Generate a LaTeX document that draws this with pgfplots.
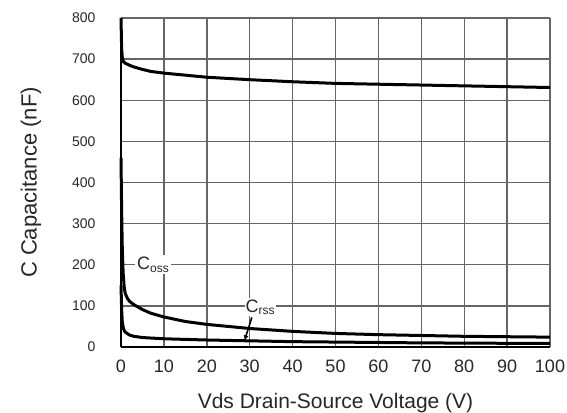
\documentclass[border=0pt]{standalone}
\usepackage{pgfplots}
\pgfplotsset{compat=1.18}
\usepackage{fontspec}
\setmainfont{Liberation Sans}
\usetikzlibrary{arrows.meta}

\pgfplotstableread{
x y
0 800
0.15 725
0.3 705
0.55 694
1 690
2 685
3 681
5 675
7 670
10 666
15 661
20 656
30 650
40 645
50 641
60 639
70 637
80 635
90 633
100 631
}\ciss

\pgfplotstableread{
x y
0 460
0.15 330
0.3 240
0.5 180
0.75 145
1 130
1.5 118
2 111
3 103
5 91
7 82
10 73
15 62
20 55
30 45
40 38
50 33
60 30
70 28
80 26
90 25
100 24
}\coss

\pgfplotstableread{
x y
0 150
0.15 90
0.3 62
0.5 48
0.75 40
1 36
2 29
3 26
5 23
10 20
20 17
30 15
40 13
50 12
60 11
70 10
80 9.5
90 9
100 8.5
}\crss

\begin{document}
\begin{tikzpicture}
\useasboundingbox (-121pt,-65pt) rectangle (446pt,347pt);
\begin{axis}[
    at={(0,0)}, anchor=south west,
    scale only axis,
    width=429pt, height=329pt,
    xmin=0, xmax=100,
    ymin=0, ymax=800,
    xtick={0,10,...,100},
    ytick={0,100,...,800},
    axis x line*=bottom,
    axis y line*=left,
    axis line style={black, line width=1.6pt, -},
    major tick length=0pt,
    grid=major,
    grid style={gray!80!black, line width=1.4pt},
    /pgf/number format/assume math mode=true,
    xticklabel style={font=\fontsize{18}{18}\selectfont, yshift=-9pt, text=black!85},
    yticklabel style={font=\fontsize{14}{14}\selectfont, xshift=-22pt, text=black!85},
    xlabel={Vds Drain-Source Voltage (V)},
    ylabel={C Capacitance (nF)},
    xlabel style={font=\fontsize{21}{21}\selectfont, yshift=-14pt, text=black!85},
    ylabel style={font=\fontsize{22}{22}\selectfont, yshift=24pt, text=black!85},
    clip=false,
]
\addplot[black, line width=3pt, line join=round] table {\ciss};
\addplot[black, line width=3pt, line join=round] table {\coss};
\addplot[black, line width=3pt, line join=round] table {\crss};
\node[fill=white, inner sep=2pt, font=\fontsize{18}{18}\selectfont, text=black!85]
    at (axis cs:7.5,200) {C\textsubscript{\fontsize{12}{12}\selectfont oss}};
\node[fill=white, inner sep=1pt, font=\fontsize{18}{18}\selectfont, text=black!85]
    at (axis cs:32.5,97) {C\textsubscript{\fontsize{12}{12}\selectfont rss}};
\draw[black, line width=1.6pt, -{Latex[length=5pt,width=5pt]}]
    (axis cs:30.5,72) -- (axis cs:28.8,16);
\end{axis}
\end{tikzpicture}
\end{document}
